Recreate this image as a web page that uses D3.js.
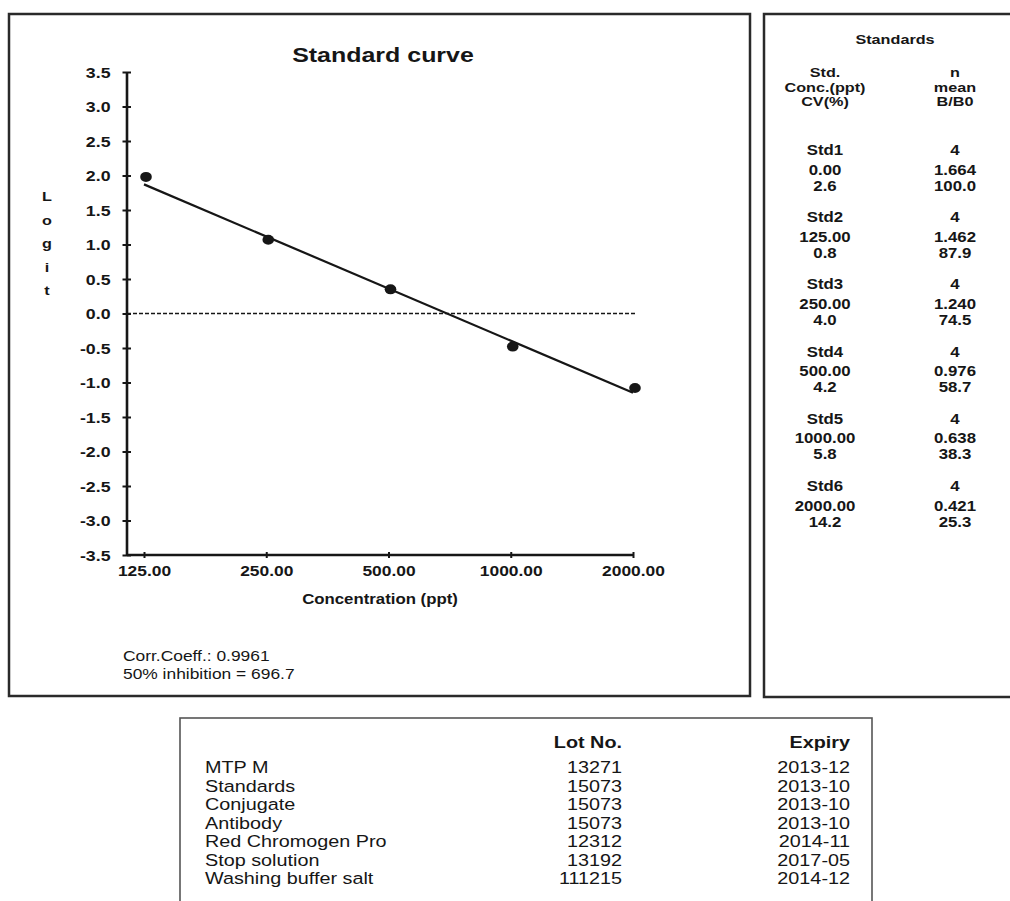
<!DOCTYPE html>
<html>
<head>
<meta charset="utf-8">
<script src="https://cdn.jsdelivr.net/npm/d3@7/dist/d3.min.js"></script>
<style>
  html, body { margin: 0; padding: 0; background: #fff; }
  svg { display: block; font-family: "Liberation Sans", Arial, Helvetica, sans-serif; }
</style>
</head>
<body>
<svg id="sheet" width="1010" height="901"></svg>
<script>
// ---- Standard curve data ----
const concentrations = [125, 250, 500, 1000, 2000];        // ppt
const logitValues    = [1.98, 1.07, 0.35, -0.48, -1.08];   // logit of mean B/B0
const xTicks = [125, 250, 500, 1000, 2000];
const yTicks = [3.5, 3.0, 2.5, 2.0, 1.5, 1.0, 0.5, 0.0, -0.5, -1.0, -1.5, -2.0, -2.5, -3.0, -3.5];

// Fit summary
const corrCoeff = 0.9961;
const ic50 = 696.7;          // concentration at logit = 0 (50% inhibition)
const fitSlope = -0.755;     // logit change per doubling of concentration

// ---- Standards table ----
const stdNames = ["Std1", "Std2", "Std3", "Std4", "Std5", "Std6"];
const stdConc  = [0, 125, 250, 500, 1000, 2000];
const stdCV    = [2.6, 0.8, 4.0, 4.2, 5.8, 14.2];
const stdN     = [4, 4, 4, 4, 4, 4];
const stdMean  = [1.664, 1.462, 1.240, 0.976, 0.638, 0.421];
const stdBB0   = [100.0, 87.9, 74.5, 58.7, 38.3, 25.3];

// ---- Reagent lots ----
const reagents    = ["MTP M", "Standards", "Conjugate", "Antibody", "Red Chromogen Pro", "Stop solution", "Washing buffer salt"];
const lotNumbers  = ["13271", "15073", "15073", "15073", "12312", "13192", "111215"];
const expiryDates = ["2013-12", "2013-10", "2013-10", "2013-10", "2014-11", "2017-05", "2014-12"];

// ---- Drawing ----
const SX = 1.2;          // printed report typeface runs wide
const INK = "#161616";
const svg = d3.select("#sheet");

function label(parent, x, y, s, size, weight, anchor) {
  return parent.append("text")
    .attr("transform", `translate(${x},${y}) scale(${SX},1)`)
    .attr("font-size", size)
    .attr("font-weight", weight || "normal")
    .attr("text-anchor", anchor || "start")
    .attr("fill", INK)
    .text(s);
}

// Panel frames
svg.append("rect").attr("x", 9).attr("y", 14).attr("width", 741).attr("height", 682)
  .attr("fill", "none").attr("stroke", "#2a2a2a").attr("stroke-width", 2.5);
svg.append("rect").attr("x", 764).attr("y", 14).attr("width", 260).attr("height", 683)
  .attr("fill", "none").attr("stroke", "#2a2a2a").attr("stroke-width", 2.5);
svg.append("rect").attr("x", 180).attr("y", 718).attr("width", 692).attr("height", 200)
  .attr("fill", "none").attr("stroke", "#555").attr("stroke-width", 1.6);

// Scales
const axisX = 127;
const x = d3.scaleLog().base(2).domain([125, 2000]).range([144, 633]);
const y = d3.scaleLinear().domain([-3.5, 3.5]).range([555, 72]);

const plot = svg.append("g");

// Title
label(plot, 383, 62, "Standard curve", 20.8, "bold", "middle");

// Zero reference line
plot.append("line")
  .attr("x1", axisX).attr("x2", 637).attr("y1", y(0)).attr("y2", y(0))
  .attr("stroke", INK).attr("stroke-width", 1.6).attr("stroke-dasharray", "4,2");

// Y axis
const yAxisG = plot.append("g").attr("transform", `translate(${axisX},0)`)
  .call(d3.axisLeft(y).tickValues(yTicks).tickSize(0).tickPadding(0).tickFormat(d => d.toFixed(1)));
yAxisG.select(".domain").remove();
yAxisG.selectAll(".tick line").attr("x1", -4.5).attr("x2", 4).attr("stroke", INK).attr("stroke-width", 2);
yAxisG.selectAll(".tick text")
  .attr("x", -16.5 / SX).attr("dy", "0.36em")
  .attr("transform", `scale(${SX},1)`)
  .attr("font-size", 14.8).attr("font-weight", "bold")
  .attr("font-family", null).attr("fill", INK);
plot.append("line").attr("x1", axisX).attr("x2", axisX)
  .attr("y1", y(3.5)).attr("y2", y(-3.5))
  .attr("stroke", INK).attr("stroke-width", 2.6);

// X axis
const xAxisG = plot.append("g").attr("transform", `translate(0,${y(-3.5)})`)
  .call(d3.axisBottom(x).tickValues(xTicks).tickSize(0).tickPadding(0).tickFormat(d => d.toFixed(2)));
xAxisG.select(".domain").remove();
xAxisG.selectAll(".tick line").attr("y1", -3).attr("y2", 3).attr("stroke", INK).attr("stroke-width", 2);
xAxisG.selectAll(".tick text")
  .attr("x", 0).attr("y", 10.5).attr("dy", "0.71em")
  .attr("transform", `scale(${SX},1)`)
  .attr("font-size", 14.5).attr("font-weight", "bold")
  .attr("font-family", null).attr("fill", INK);
plot.append("line").attr("x1", axisX).attr("x2", x(2000))
  .attr("y1", y(-3.5)).attr("y2", y(-3.5))
  .attr("stroke", INK).attr("stroke-width", 2.6);

// Axis titles
label(plot, 380, 604, "Concentration (ppt)", 14, "bold", "middle");
const yLetters = ["L", "o", "g", "i", "t"];
yLetters.forEach((ch, i) => label(plot, 47, 201 + i * 23.5, ch, 13.5, "bold", "middle"));

// Fitted line through logit 0 at the 50% inhibition concentration
const fitPts = [125, 2000].map(c => ({ c, v: fitSlope * Math.log2(c / ic50) }));
plot.append("path")
  .datum(fitPts)
  .attr("d", d3.line().x(d => x(d.c)).y(d => y(d.v)))
  .attr("fill", "none").attr("stroke", INK).attr("stroke-width", 2.2);

// Measured standards
plot.selectAll("ellipse.pt")
  .data(concentrations.map((c, i) => ({ c, v: logitValues[i] })))
  .join("ellipse").attr("class", "pt")
  .attr("cx", d => x(d.c) + 2).attr("cy", d => y(d.v))
  .attr("rx", 5.8).attr("ry", 5)
  .attr("fill", INK);

// Fit statistics
label(plot, 123, 661, `Corr.Coeff.: ${corrCoeff.toFixed(4)}`, 14.5, "normal", "start");
label(plot, 123, 679, `50% inhibition = ${ic50.toFixed(1)}`, 14.5, "normal", "start");

// ---- Standards panel ----
const std = svg.append("g");
const c1 = 825, c2 = 955;
label(std, 895, 44, "Standards", 13.5, "bold", "middle");
[["Std.", "n"], ["Conc.(ppt)", "mean"], ["CV(%)", "B/B0"]].forEach((pair, i) => {
  label(std, c1, 77 + i * 14.5, pair[0], 13.5, "bold", "middle");
  label(std, c2, 77 + i * 14.5, pair[1], 13.5, "bold", "middle");
});
stdNames.forEach((name, i) => {
  const b = 155 + i * 67.2;
  label(std, c1, b, name, 14, "bold", "middle");
  label(std, c1, b + 19.5, stdConc[i].toFixed(2), 14, "bold", "middle");
  label(std, c1, b + 35.5, stdCV[i].toFixed(1), 14, "bold", "middle");
  label(std, c2, b, String(stdN[i]), 14, "bold", "middle");
  label(std, c2, b + 19.5, stdMean[i].toFixed(3), 14, "bold", "middle");
  label(std, c2, b + 35.5, stdBB0[i].toFixed(1), 14, "bold", "middle");
});

// ---- Reagent lot table ----
const lots = svg.append("g");
label(lots, 622, 748, "Lot No.", 16.5, "bold", "end");
label(lots, 850, 748, "Expiry", 16.5, "bold", "end");
reagents.forEach((r, i) => {
  const b = 773 + i * 18.5;
  label(lots, 205, b, r, 16.5, "normal", "start");
  label(lots, 622, b, lotNumbers[i], 16.5, "normal", "end");
  label(lots, 850, b, expiryDates[i], 16.5, "normal", "end");
});
</script>
</body>
</html>
